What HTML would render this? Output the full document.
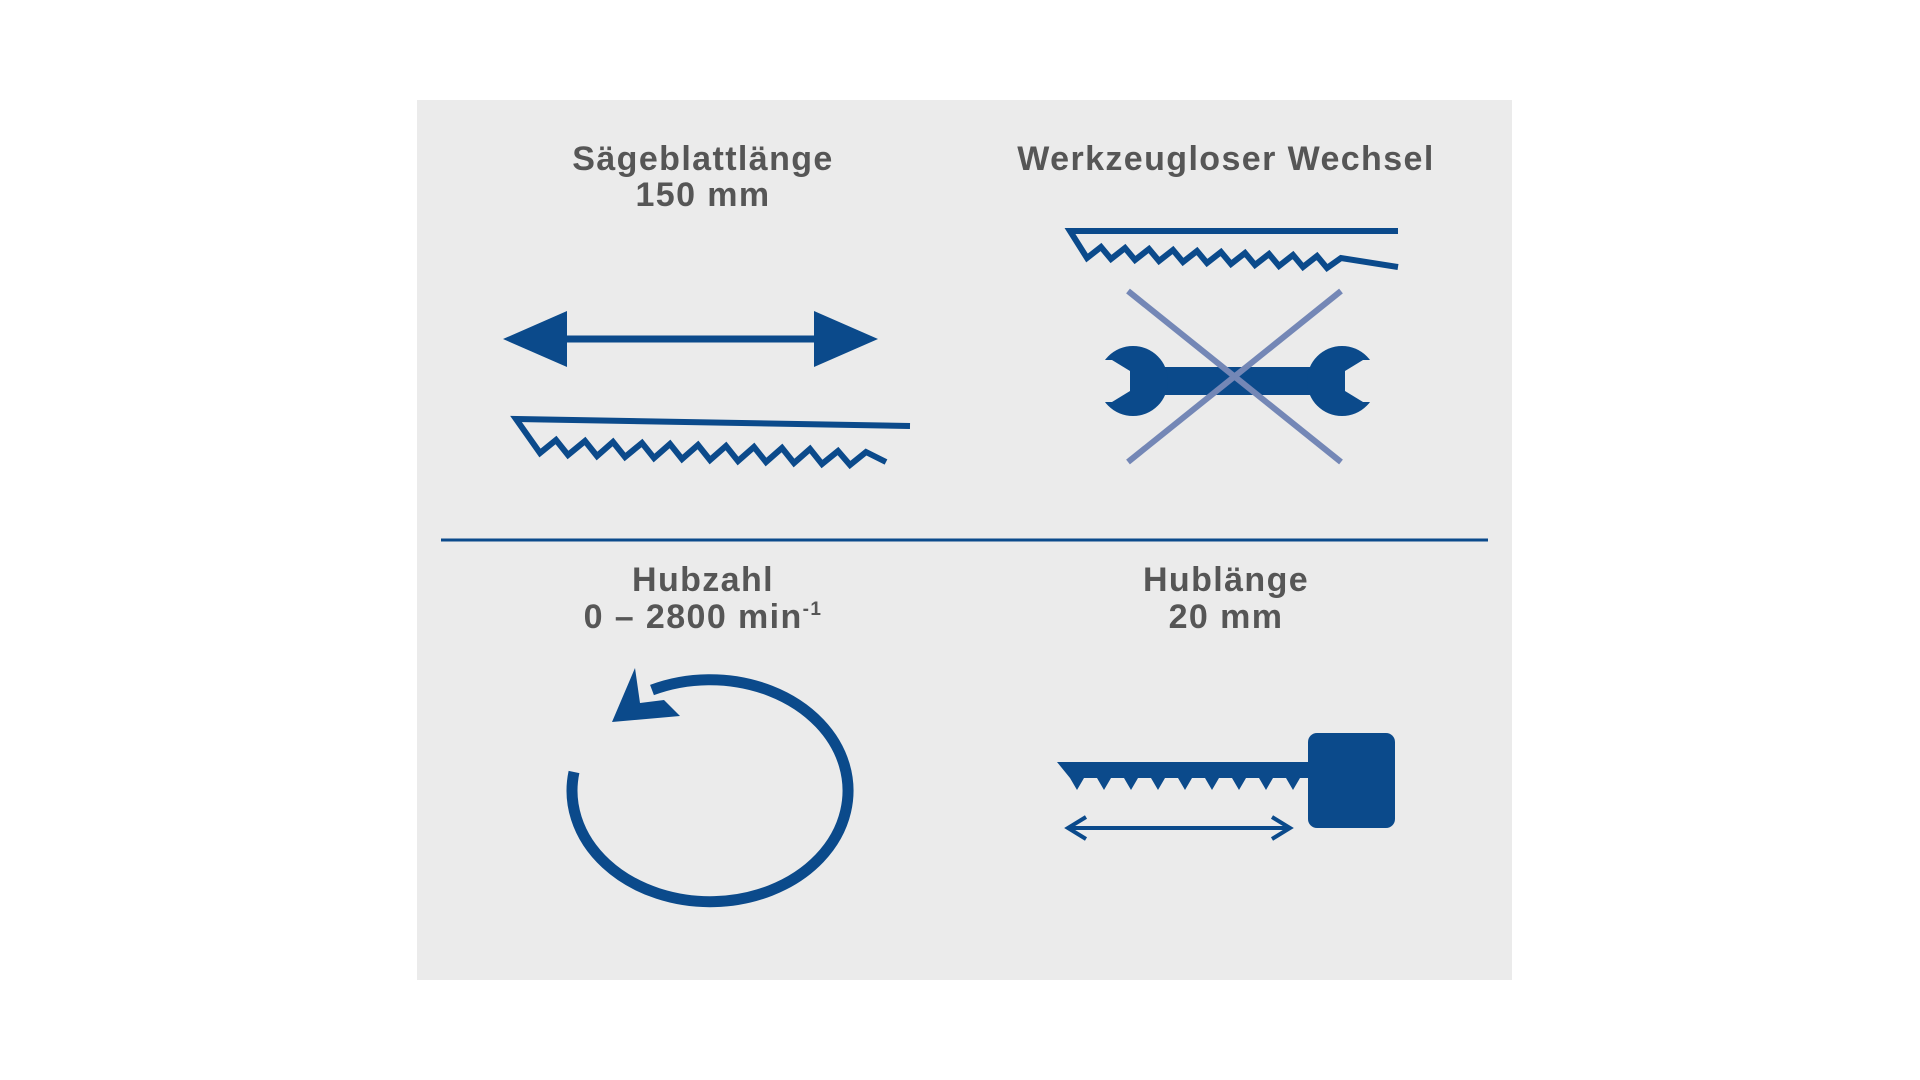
<!DOCTYPE html>
<html><head><meta charset="utf-8"><style>
html,body{margin:0;padding:0;background:#fff;width:1920px;height:1080px;overflow:hidden}
svg{display:block}
text{font-family:"Liberation Sans",sans-serif;font-weight:bold;fill:#565656;font-size:34px;letter-spacing:1.4px}
</style></head><body>
<svg width="1920" height="1080" viewBox="0 0 1920 1080">
<rect x="417" y="100" width="1095" height="880" fill="#ebebeb"/>
<line x1="441" y1="540" x2="1488" y2="540" stroke="#0b4a8b" stroke-width="3"/>
<text x="703" y="170" text-anchor="middle">Sägeblattlänge</text>
<text x="703" y="206" text-anchor="middle">150 mm</text>
<text x="1226" y="170" text-anchor="middle">Werkzeugloser Wechsel</text>
<text x="703" y="591" text-anchor="middle">Hubzahl</text>
<text x="703" y="628" text-anchor="middle">0 – 2800 min<tspan font-size="19" dy="-13">-1</tspan></text>
<text x="1226" y="591" text-anchor="middle">Hublänge</text>
<text x="1226" y="628" text-anchor="middle">20 mm</text>
<g fill="#0b4a8b" stroke="#0b4a8b">
<line x1="560" y1="339" x2="820" y2="339" stroke-width="7"/>
<polygon points="503,339 567,311 567,367" stroke="none"/>
<polygon points="878,339 814,311 814,367" stroke="none"/>
</g>
<g fill="none" stroke="#0b4a8b" stroke-width="6" stroke-linejoin="miter">
<polyline points="910,426 516,419 540,453 556,440 568,455 585,441 597,456 613,442 625,457 642,443 654,458 670,444 682,459 698,445 710,460 726,446 738,461 754,447 766,462 782,448 794,463 810,449 822,464 838,451 850,465 866,452 886,462"/>
<polyline points="1398,231 1070,231 1087,258 1101,247 1111,259 1125,248 1135,260 1149,249 1159,261 1173,250 1183,262 1197,251 1207,263 1221,252 1231,264 1245,253 1255,265 1269,254 1279,266 1293,255 1303,267 1317,256 1327,268 1341,258 1398,267"/>
</g>
<!-- wrench -->
<g fill="#0b4a8b">
<rect x="1140" y="367" width="195" height="28"/>
<circle cx="1133" cy="381" r="35"/>
<circle cx="1342" cy="381" r="35"/>
</g>
<g fill="#ebebeb">
<polygon points="1090,360 1112,360 1130,371 1130,391 1112,402 1090,402"/>
<polygon points="1385,360 1363,360 1345,371 1345,391 1363,402 1385,402"/>
</g>
<g stroke="#7487b6" stroke-width="6">
<line x1="1128" y1="291" x2="1341" y2="462"/>
<line x1="1341" y1="291" x2="1128" y2="462"/>
</g>
<!-- circle arrow -->
<path d="M574,772 A138,111 0 1 0 652,690" fill="none" stroke="#0b4a8b" stroke-width="11"/>
<polygon points="635,668 612,722 680,716 664,700 640,703" fill="#0b4a8b"/>
<!-- saw with handle -->
<g fill="#0b4a8b">
<rect x="1308" y="733" width="87" height="95" rx="9"/>
<polygon points="1057,762 1312,762 1312,778 1300,778 1293,790 1286,778 1273,778 1266,790 1259,778 1246,778 1239,790 1232,778 1219,778 1212,790 1205,778 1192,778 1185,790 1178,778 1165,778 1158,790 1151,778 1138,778 1131,790 1124,778 1111,778 1104,790 1097,778 1084,778 1077,790 1070,778"/>
</g>
<g stroke="#0b4a8b" stroke-width="4" fill="none">
<line x1="1070" y1="828" x2="1288" y2="828"/>
<polyline points="1086,817 1068,828 1086,839"/>
<polyline points="1272,817 1290,828 1272,839"/>
</g>
</svg>
</body></html>
